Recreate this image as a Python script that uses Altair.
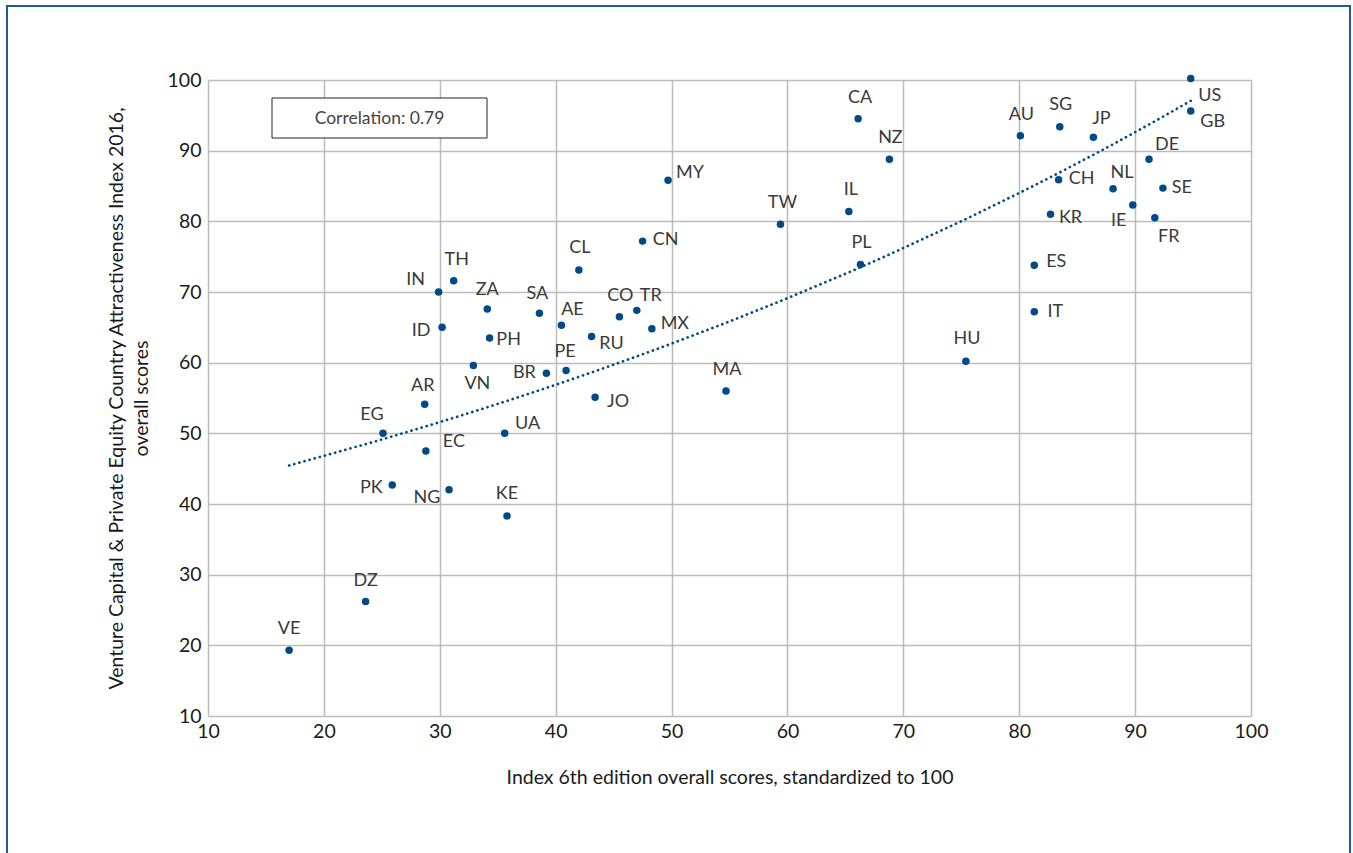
import altair as alt
import pandas as pd

# Country codes with their two scores
countries = [
    "VE", "DZ", "PK", "NG", "KE", "EG", "EC", "AR", "UA", "VN",
    "IN", "TH", "ZA", "ID", "PH", "SA", "AE", "CL", "CO", "TR",
    "MX", "RU", "BR", "PE", "JO", "MA", "MY", "CN", "TW", "IL",
    "CA", "NZ", "PL", "HU", "AU", "SG", "JP", "US", "GB", "DE",
    "CH", "NL", "SE", "IE", "KR", "FR", "ES", "IT",
]
index6_scores = [
    17.0, 23.6, 25.9, 30.8, 35.8, 25.1, 28.8, 28.7, 35.6, 32.9,
    29.9, 31.2, 34.1, 30.2, 34.3, 38.6, 40.5, 42.0, 45.5, 47.0,
    48.3, 43.1, 39.2, 40.9, 43.4, 54.7, 49.7, 47.5, 59.4, 65.3,
    66.1, 68.8, 66.3, 75.4, 80.1, 83.5, 86.4, 94.8, 94.8, 91.2,
    83.4, 88.1, 92.4, 89.8, 82.7, 91.7, 81.3, 81.3,
]
vcpe_scores = [
    19.3, 26.2, 42.7, 42.0, 38.3, 50.0, 47.5, 54.1, 50.0, 59.6,
    70.0, 71.6, 67.6, 65.0, 63.5, 67.0, 65.3, 73.1, 66.5, 67.4,
    64.8, 63.7, 58.5, 58.9, 55.1, 56.0, 85.8, 77.2, 79.6, 81.4,
    94.5, 88.8, 73.9, 60.2, 92.1, 93.4, 91.9, 100.2, 95.6, 88.8,
    85.9, 84.6, 84.7, 82.3, 81.0, 80.5, 73.8, 67.2,
]
correlation_text = "Correlation: 0.79"

# Where each code sits relative to its point (text centre offset in px)
label_offsets = {
    "VE": (0, -21), "DZ": (0, -21), "PK": (-21, 3), "NG": (-22, 8),
    "KE": (0, -22), "EG": (-11, -18), "EC": (28, -9), "AR": (-2, -18),
    "UA": (23, -9), "VN": (4, 19), "IN": (-23, -12), "TH": (3, -21),
    "ZA": (0, -19), "ID": (-21, 4), "PH": (19, 2), "SA": (-2, -19),
    "AE": (11, -15), "CL": (1, -22), "CO": (1, -21), "TR": (14, -14),
    "MX": (23, -5), "RU": (20, 7), "BR": (-22, 0), "PE": (-1, -18),
    "JO": (23, 5), "MA": (1, -21), "MY": (22, -7), "CN": (23, -1),
    "TW": (2, -21), "IL": (2, -21), "CA": (2, -21), "NZ": (1, -21),
    "PL": (1, -21), "HU": (1, -22), "AU": (1, -21), "SG": (1, -22),
    "JP": (8, -18), "US": (19, 17), "GB": (22, 11), "DE": (18, -14),
    "CH": (23, -1), "NL": (9, -16), "SE": (19, 0), "IE": (-14, 16),
    "KR": (20, 4), "FR": (14, 19), "ES": (22, -3), "IT": (21, 0),
}

BLUE = "#024a87"
FONT = "Lato"

df = pd.DataFrame({"country": countries, "index6": index6_scores, "vcpe": vcpe_scores})

x_scale = alt.Scale(domain=[10, 100], nice=False, zero=False)
y_scale = alt.Scale(domain=[10, 100], nice=False, zero=False)
ticks = list(range(10, 101, 10))

x_enc = alt.X(
    "index6:Q",
    scale=x_scale,
    axis=alt.Axis(
        values=ticks,
        title="Index 6th edition overall scores, standardized to 100",
        titlePadding=28,
        labelPadding=6,
        labelFlush=False,
    ),
)
y_enc = alt.Y(
    "vcpe:Q",
    scale=y_scale,
    axis=alt.Axis(
        values=ticks,
        title=[
            "Venture Capital & Private Equity Country Attractiveness Index 2016,",
            "overall scores",
        ],
        titlePadding=16,
        labelPadding=7,
        titleLineHeight=25,
        labelFlush=False,
    ),
)

base = alt.Chart(df)

# Outer frame around the figure
frame = alt.Chart(pd.DataFrame({"k": [0]})).mark_rect(
    fillOpacity=0, stroke="#1f5b98", strokeWidth=2
).encode(
    x=alt.value(-201), x2=alt.value(1142), y=alt.value(-74), y2=alt.value(820)
)

# Exponential trend line: least squares of ln(y) on x, evaluated at each country
trend = base.transform_calculate(
    lny="log(datum.vcpe)",
    xlny="datum.index6 * log(datum.vcpe)",
    xx="datum.index6 * datum.index6",
).transform_joinaggregate(
    mx="mean(index6)", ml="mean(lny)", mxl="mean(xlny)", mxx="mean(xx)"
).transform_calculate(
    slope="(datum.mxl - datum.mx * datum.ml) / (datum.mxx - datum.mx * datum.mx)"
).transform_calculate(
    fit="exp(datum.ml + datum.slope * (datum.index6 - datum.mx))"
).mark_line(
    color=BLUE, strokeWidth=2.7, strokeDash=[0.1, 5.2], strokeCap="round"
).encode(
    x=alt.X("index6:Q", scale=x_scale, sort="ascending"),
    y=alt.Y("fit:Q", scale=y_scale),
    order="index6:Q",
)

points = base.mark_circle(size=56, color=BLUE, opacity=1).encode(x=x_enc, y=y_enc)

# Country code labels, one layer per offset
groups = {}
for code, off in label_offsets.items():
    groups.setdefault(off, []).append(code)

label_layers = []
for (dx, dy), codes in groups.items():
    label_layers.append(
        base.transform_filter(
            alt.FieldOneOfPredicate(field="country", oneOf=codes)
        ).mark_text(
            dx=dx, dy=dy, align="center", baseline="middle",
            font=FONT, fontSize=18, color="#3a3a3a",
        ).encode(x=x_enc, y=y_enc, text="country:N")
    )

# Correlation annotation box
box = alt.Chart(pd.DataFrame({"k": [0]})).mark_rect(
    fill="white", stroke="#222222", strokeWidth=1
).encode(x=alt.value(64), x2=alt.value(279), y=alt.value(18), y2=alt.value(58))
box_text = alt.Chart(pd.DataFrame({"k": [0]})).mark_text(
    font=FONT, fontSize=17.5, color="#444444", align="center", baseline="middle"
).encode(x=alt.value(171.5), y=alt.value(39), text=alt.value(correlation_text))

chart = alt.layer(
    frame, points, trend, *label_layers, box, box_text
).properties(
    width=1043,
    height=636,
    autosize=alt.AutoSizeParams(type="none"),
    padding={"left": 208, "top": 80, "right": 102, "bottom": 137},
    background="white",
).configure_view(
    strokeWidth=0
).configure_axis(
    grid=True,
    gridColor="#bcbcbc",
    gridWidth=1.5,
    domain=False,
    ticks=False,
    labelFont=FONT,
    labelFontSize=19.5,
    labelColor="#1a1a1a",
    titleFont=FONT,
    titleFontSize=19.5,
    titleFontWeight="normal",
    titleColor="#1a1a1a",
)

chart.save("out.html", embed_options={"renderer": "svg", "actions": False})
